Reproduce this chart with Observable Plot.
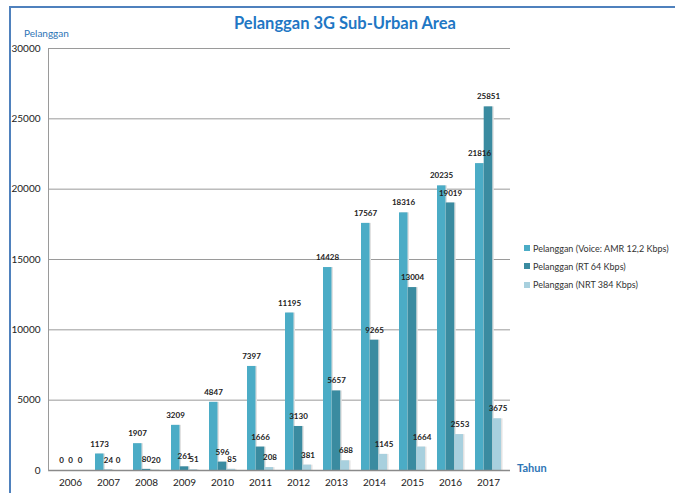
<!DOCTYPE html>
<html>
<head>
<meta charset="utf-8">
<script src="https://cdn.jsdelivr.net/npm/d3@7"></script>
<script src="https://cdn.jsdelivr.net/npm/@observablehq/plot@0.6"></script>
<style>
  html, body { margin: 0; padding: 0; background: #fff; }
  #wrap { position: relative; width: 675px; height: 493px; overflow: hidden; font-family: Lato, "Open Sans", sans-serif; }
  .border-left { position: absolute; left: 9px; top: 6px; width: 2px; height: 500px; background: #4f81bd; }
  .border-top { position: absolute; left: 9px; top: 6px; width: 700px; height: 2px; background: #4f81bd; }
  .title { position: absolute; left: 0; width: 690px; top: 13px; text-align: center; font-weight: bold; font-size: 16.5px; color: #1f77c4; }
  .ylab { position: absolute; left: 24px; top: 27px; font-size: 10px; color: #2e75b6; }
  .xlab { position: absolute; left: 517px; top: 461px; font-size: 11px; font-weight: bold; color: #2e75b6; }
  .legend { position: absolute; left: 524px; top: 239px; font-size: 9px; color: #333; }
  .legend div { height: 18.3px; display: flex; align-items: center; }
  .legend span.sw { display: inline-block; width: 6px; height: 6px; margin-right: 3px; }
  svg { position: absolute; left: 0; top: 0; }
</style>
</head>
<body>
<div id="wrap">
  <div class="border-left"></div>
  <div class="border-top"></div>
  <div class="title">Pelanggan 3G Sub-Urban Area</div>
  <div class="ylab">Pelanggan</div>
  <div class="xlab">Tahun</div>
  <div class="legend" id="legend"></div>
</div>
<script>
const years = ["2006","2007","2008","2009","2010","2011","2012","2013","2014","2015","2016","2017"];
const seriesNames = ["Pelanggan (Voice: AMR 12,2 Kbps)", "Pelanggan (RT 64 Kbps)", "Pelanggan (NRT 384 Kbps)"];
const voice = [0, 1173, 1907, 3209, 4847, 7397, 11195, 14428, 17567, 18316, 20235, 21816];
const rt64 = [0, 24, 80, 261, 596, 1666, 3130, 5657, 9265, 13004, 19019, 25851];
const nrt384 = [0, 0, 20, 51, 85, 208, 381, 688, 1145, 1664, 2553, 3675];
const yTicks = [0, 5000, 10000, 15000, 20000, 25000, 30000];
const colors = ["#4bacc6", "#3a8ba0", "#a8d0de"];

const sets = [voice, rt64, nrt384].map((vals, s) => years.map((y, i) => ({year: y, value: vals[i], series: seriesNames[s]})));

// bar slot geometry within each year band (style only)
const slot = [{il: 0, ir: 17.5, dx: -9}, {il: 8.7, ir: 8.7, dx: 0}, {il: 17.5, ir: 0, dx: 9.5}];

const marks = [
  Plot.ruleY(yTicks.filter(t => t > 0), {stroke: "#9a9a9a", strokeWidth: 1})
];
sets.forEach((data, s) => {
  marks.push(Plot.barY(data, {x: "year", y: "value", fill: "#e2e2e2", insetLeft: slot[s].il + 1.5, insetRight: slot[s].ir - 1.5}));
  marks.push(Plot.barY(data, {x: "year", y: "value", fill: colors[s], insetLeft: slot[s].il, insetRight: slot[s].ir}));
});
sets.forEach((data, s) => {
  marks.push(Plot.text(data, {x: "year", y: "value", text: d => String(d.value), dx: slot[s].dx, dy: -10, fontSize: 8, fontWeight: "bold", fill: "#222"}));
});
marks.push(Plot.ruleY([0], {stroke: "#8a8a8a", strokeWidth: 1.5}));
marks.push(Plot.axisY({ticks: yTicks, tickSize: 0, tickPadding: 8, tickFormat: d => String(d), fontSize: 10, label: null}));
marks.push(Plot.axisX({tickSize: 0, tickPadding: 8, fontSize: 10, label: null}));
marks.push(Plot.frame({anchor: "left", stroke: "#9a9a9a"}));

const chart = Plot.plot({
  width: 675,
  height: 493,
  marginLeft: 48,
  marginRight: 165,
  marginTop: 48,
  marginBottom: 23,
  style: {fontFamily: "Lato, 'Open Sans', sans-serif", color: "#222", background: "transparent", overflow: "visible"},
  x: {type: "band", domain: years, paddingInner: 0.32, paddingOuter: 0.14, align: 0.5},
  y: {domain: [0, 30000], ticks: yTicks},
  marks
});
document.getElementById("wrap").insertBefore(chart, document.getElementById("wrap").firstChild);

const leg = document.getElementById("legend");
seriesNames.forEach((n, i) => {
  const row = document.createElement("div");
  const sw = document.createElement("span");
  sw.className = "sw";
  sw.style.background = colors[i];
  row.appendChild(sw);
  row.appendChild(document.createTextNode(n));
  leg.appendChild(row);
});
</script>
</body>
</html>
